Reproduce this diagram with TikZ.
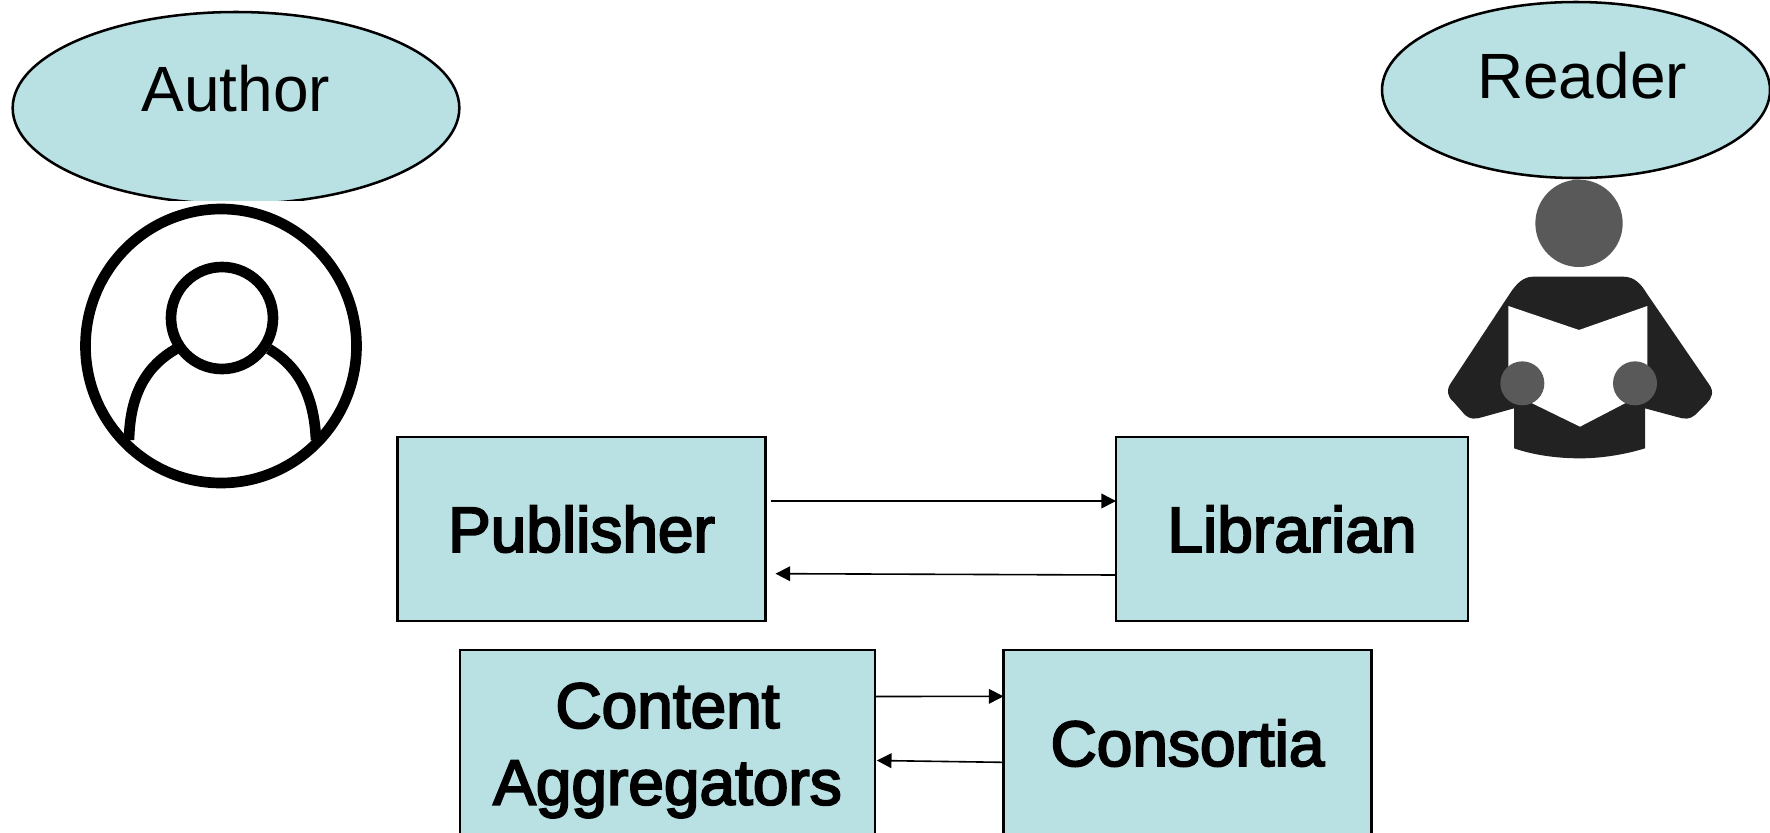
\documentclass[tikz,border=0pt]{standalone}
\usepackage{fontspec}
\setmainfont{Liberation Sans}
\newcommand{\heavytext}[1]{\special{pdf:code q 2 Tr 1.5 w}#1\special{pdf:code Q}}
\usetikzlibrary{shapes.geometric,arrows.meta}
\definecolor{boxfill}{HTML}{B9E0E2}
\definecolor{iconhead}{HTML}{595959}
\definecolor{iconbody}{HTML}{222222}
\tikzset{
  card/.style={draw=black,line width=1.7pt,fill=boxfill,inner sep=0pt,outer sep=0pt,align=center,
    font=\fontsize{48}{57.6}\selectfont},
  oval/.style={ellipse,draw=black,line width=1.9pt,fill=boxfill,inner sep=0pt,outer sep=0pt},
  ovaltext/.style={anchor=base,inner sep=0pt,font=\fontsize{48}{57.6}\selectfont},
  link/.style={draw=black,line width=1.2pt,-{Triangle[length=11pt,width=11pt]}},
  ring/.style={draw=black,line width=8pt}
}
\begin{document}
\begin{tikzpicture}[x=0.75pt,y=-0.75pt]
\useasboundingbox (0,0) rectangle (1770,832);
\clip (0,0) rectangle (1770,832);
% Author
\node[oval,minimum width=335pt,minimum height=144pt] (author) at (236,108) {};
\fill[white] (70,201) rectangle (380,500);
\node[ovaltext] (authortext) at (236,111.7) {Author};
% author icon
\begin{scope}
\draw[ring] (221,346) ellipse [x radius=135.5,y radius=137];
\draw[ring] (222,318) circle (51);
\clip (221,346) ellipse [x radius=135.5,y radius=137];
\draw[ring] (129,440) .. controls (130,392) and (148,365) .. (176,349);
\draw[ring] (316,440) .. controls (314,392) and (296,365) .. (269,349);
\end{scope}
% Reader
\node[oval,minimum width=291pt,minimum height=132pt] (reader) at (1576,90) {};
\node[ovaltext] (readertext) at (1582,98.3) {Reader};
% reader icon, in zoomed coordinates
\begin{scope}[shift={(1360,0)},x=0.25pt,y=-0.25pt]
\fill[iconbody] (520,830) -- (790,830) .. controls (825,830) and (845,855) .. (860,880) -- (1045,1150) .. controls (1065,1175) and (1055,1195) .. (1040,1210) -- (1005,1245) .. controls (990,1258) and (975,1258) .. (955,1252) -- (855,1225) -- (855,1345) .. controls (790,1365) and (720,1375) .. (660,1375) .. controls (590,1375) and (520,1365) .. (462,1345) -- (462,1225) -- (365,1252) .. controls (345,1258) and (330,1258) .. (315,1245) -- (280,1205) .. controls (262,1190) and (258,1170) .. (272,1150) -- (450,880) .. controls (470,850) and (490,830) .. (520,830) -- cycle;
\fill[white] (445,918) -- (657,990) -- (862,918) -- (862,1175) -- (660,1280) -- (445,1175) -- cycle;
\fill[iconhead] (657,670) circle (131);
\fill[iconhead] (487,1150) circle (66);
\fill[iconhead] (825,1150) circle (66);
\end{scope}
% Boxes
\node[card,minimum width=276pt,minimum height=138pt] (publisher) at (581.5,529) {\heavytext{Publisher}};
\node[card,minimum width=264pt,minimum height=138pt] (librarian) at (1292,529) {\heavytext{Librarian}};
\node[card,minimum width=311pt,minimum height=151pt] (aggregators) at (667.5,750.5) {\heavytext{Content}\\\heavytext{Aggregators}};
\node[card,minimum width=276pt,minimum height=140pt] (consortia) at (1187.5,743) {\heavytext{Consortia}};
% Connectors
\draw[link] ([xshift=3.75pt,yshift=21pt]publisher.east) -- ([yshift=21pt]librarian.west);
\draw[link] ([yshift=-34.5pt]librarian.west) -- ([xshift=7.5pt,yshift=-33.5pt]publisher.east);
\draw[link] ([yshift=40.5pt]aggregators.east) -- ([yshift=35pt]consortia.west);
\draw[link] ([yshift=-14.5pt]consortia.west) -- ([xshift=1.5pt,yshift=-7.5pt]aggregators.east);
\end{tikzpicture}
\end{document}
